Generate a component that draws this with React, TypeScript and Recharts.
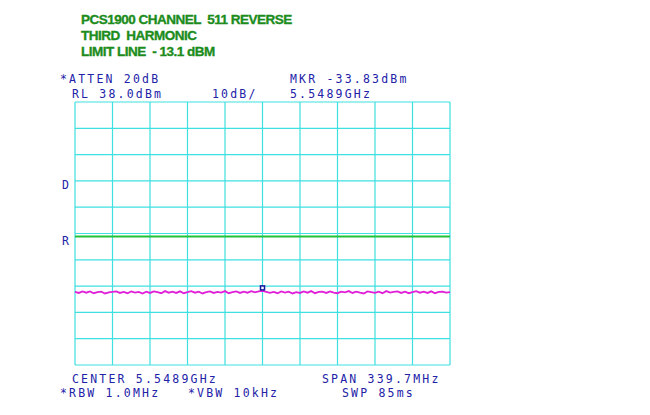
import { CartesianGrid, Line, LineChart, ReferenceDot, ReferenceLine, XAxis, YAxis } from 'recharts';

// Analyzer settings
const REF_LEVEL = 38; // dBm, top of screen
const DB_PER_DIV = 10;
const LIMIT_DBM = -13.1;
const MARKER_DBM = -33.83;
const MARKER_DIV = 5; // marker sits at the center frequency

const xTicks = [0, 1, 2, 3, 4, 5, 6, 7, 8, 9, 10];
const yTicks = [-62, -52, -42, -32, -22, -12, -2, 8, 18, 28, 38];

// Trace level (dBm), 101 samples across the 10 divisions
const traceDbm = [
  -34.2, -34.6, -34.0, -34.5, -34.0, -34.7, -34.3, -34.1, -34.8, -34.4,
  -34.2, -34.0, -34.6, -34.2, -34.7, -34.0, -34.5, -34.2, -34.8, -34.1,
  -34.6, -34.0, -34.3, -34.7, -33.9, -34.5, -34.1, -34.6, -34.0, -34.7,
  -34.3, -33.9, -34.5, -34.1, -34.8, -34.3, -34.0, -34.6, -34.2, -34.5,
  -33.9, -34.7, -34.3, -34.0, -34.6, -34.1, -34.5, -33.9, -34.4, -34.0,
  -33.83, -34.2, -34.6, -34.2, -34.7, -34.0, -34.5, -34.1, -34.8, -34.3,
  -34.6, -34.0, -34.5, -33.9, -34.7, -34.2, -34.1, -34.6, -34.0, -34.5,
  -34.7, -34.1, -34.4, -33.9, -34.6, -34.1, -34.5, -34.8, -34.0, -34.3,
  -34.6, -34.1, -34.7, -33.9, -34.5, -34.2, -34.0, -34.6, -34.1, -34.7,
  -34.3, -33.9, -34.5, -34.1, -34.6, -34.0, -34.7, -34.2, -34.1, -34.5,
  -34.3,
];

const titleLines = ['PCS1900 CHANNEL  511 REVERSE', 'THIRD  HARMONIC', 'LIMIT LINE  - 13.1 dBM'];

const data = traceDbm.map((v, i) => ({ div: (i * 10) / (traceDbm.length - 1), dbm: v }));

const BLUE = '#2222a8';
const mono = { fontFamily: '"DejaVu Sans Mono", monospace', fontSize: 11.5, letterSpacing: 2.2, fill: BLUE };

function MarkerShape(props: any) {
  const { cx, cy } = props;
  return <rect x={cx - 2} y={cy - 5} width={4} height={4} fill="#fff" stroke="#1414a0" strokeWidth={1.5} />;
}

export default function App() {
  return (
    <div style={{ position: 'absolute', left: 0, top: 0, width: 650, height: 415, background: '#fff' }}>
      <LineChart width={650} height={415} data={data} margin={{ top: 102, right: 200, bottom: 50, left: 75 }}>
        <XAxis dataKey="div" type="number" domain={[0, 10]} ticks={xTicks} hide />
        <YAxis type="number" domain={[REF_LEVEL - 10 * DB_PER_DIV, REF_LEVEL]} ticks={yTicks} hide />
        <CartesianGrid stroke="#3ee0e0" strokeWidth={1.2} />
        <ReferenceLine y={LIMIT_DBM} stroke="#22c23a" strokeWidth={2} />
        <Line dataKey="dbm" stroke="#e020d8" strokeWidth={1.8} dot={false} isAnimationActive={false} />
        <ReferenceDot x={MARKER_DIV} y={MARKER_DBM} r={2.5} shape={MarkerShape} />
      </LineChart>
      <svg width={650} height={415} style={{ position: 'absolute', left: 0, top: 0, pointerEvents: 'none' }}>
        <g
          style={{ fontFamily: '"Liberation Sans", Arial, sans-serif', fontWeight: 'bold', fontSize: 13.5 }}
          fill="#1c8c1c"
          stroke="#1c8c1c"
          strokeWidth={0.35}
        >
          {titleLines.map((t, i) => (
            <text key={t} x={81} y={24 + i * 16} letterSpacing={-0.5} xmlSpace="preserve">
              {t}
            </text>
          ))}
        </g>
        <g style={mono}>
          <text x={60} y={83}>*ATTEN 20dB</text>
          <text x={290} y={83}>MKR -33.83dBm</text>
          <text x={72} y={98}>RL 38.0dBm</text>
          <text x={212} y={98}>10dB/</text>
          <text x={290} y={98}>5.5489GHz</text>
          <text x={62} y={189}>D</text>
          <text x={62} y={245}>R</text>
          <text x={72} y={383}>CENTER 5.5489GHz</text>
          <text x={322} y={383}>SPAN 339.7MHz</text>
          <text x={60} y={397}>*RBW 1.0MHz</text>
          <text x={188} y={397}>*VBW 10kHz</text>
          <text x={342} y={397}>SWP 85ms</text>
        </g>
      </svg>
    </div>
  );
}
